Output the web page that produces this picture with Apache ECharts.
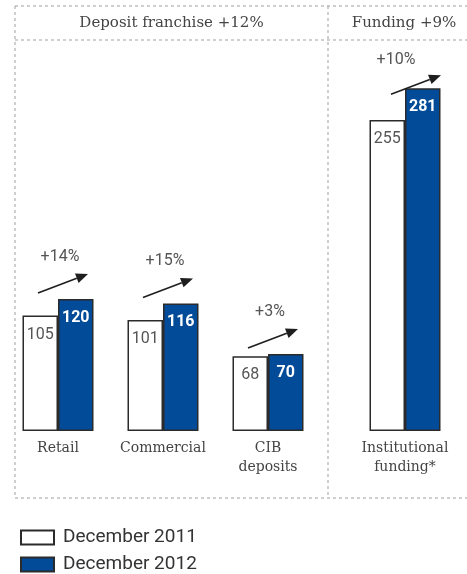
<!DOCTYPE html>
<html>
<head>
<meta charset="utf-8">
<script src="https://cdn.jsdelivr.net/npm/echarts@6/dist/echarts.min.js"></script>
<style>
  html, body { margin: 0; padding: 0; background: #fff; }
  #chart { width: 467px; height: 574px; }
</style>
</head>
<body>
<div id="chart"></div>
<script>
// Deposit franchise (left panel)
const depositCategories = ['Retail', 'Commercial', 'CIB\ndeposits'];
const deposit2011 = [105, 101, 68];
const deposit2012 = [120, 116, 70];
const depositGrowth = ['+14%', '+15%', '+3%'];

// Funding (right panel)
const fundingCategories = ['Institutional\nfunding*'];
const funding2011 = [255];
const funding2012 = [281];
const fundingGrowth = ['+10%'];

const panelTitles = ['Deposit franchise +12%', 'Funding +9%'];
const seriesNames = ['December 2011', 'December 2012'];

const BLUE = '#024b98';
const EDGE = '#2b2b2b';
const SANS = 'Roboto';
const SERIF = 'DejaVu Serif';

// growth arrow + label, anchored on the category centre at the 2012 value
function growthArrow(growth, off) {
  return function (params, api) {
    const p = api.coord([api.value(0), api.value(1)]);
    const x1 = p[0] + off.tail[0], y1 = p[1] + off.tail[1];
    const x2 = p[0] + off.head[0], y2 = p[1] + off.head[1];
    const dx = x2 - x1, dy = y2 - y1;
    const len = Math.sqrt(dx * dx + dy * dy);
    const ux = dx / len, uy = dy / len;
    const hl = 12, hw = 5;
    const bx = x2 - ux * hl, by = y2 - uy * hl;
    return {
      type: 'group',
      children: [
        { type: 'line', shape: { x1: x1, y1: y1, x2: bx, y2: by },
          style: { stroke: '#1e1e1e', lineWidth: 1.6 } },
        { type: 'polygon',
          shape: { points: [[x2, y2], [bx - uy * hw, by + ux * hw], [bx + uy * hw, by - ux * hw]] },
          style: { fill: '#1e1e1e' } },
        { type: 'text',
          style: { text: growth[params.dataIndex], x: p[0] + off.label[0], y: p[1] + off.label[1],
                   align: 'center', verticalAlign: 'middle',
                   font: '16px ' + SANS, fill: '#555' } }
      ]
    };
  };
}

function barSeries(name, data, idx, is2012) {
  return {
    type: 'bar', name: name, data: data,
    xAxisIndex: idx, yAxisIndex: idx,
    barWidth: 35.5, barGap: '0%',
    itemStyle: { color: is2012 ? BLUE : '#fff', borderColor: EDGE, borderWidth: 1.5 },
    label: {
      show: true, position: 'insideTop', distance: 11,
      fontFamily: SANS, fontSize: 16,
      fontWeight: is2012 ? 'bold' : 'normal',
      color: is2012 ? '#fff' : '#555'
    },
    z: 3
  };
}

const dash = { stroke: '#a0a0a0', lineWidth: 1, lineDash: [3, 3] };
function hline(y, x1, x2) { return { type: 'line', shape: { x1: x1, y1: y, x2: x2, y2: y }, style: dash, silent: true }; }
function vline(x, y1, y2) { return { type: 'line', shape: { x1: x, y1: y1, x2: x, y2: y2 }, style: dash, silent: true }; }

const catLabel = {
  fontFamily: SERIF, fontSize: 14, color: '#444', lineHeight: 19, margin: 8, interval: 0
};

function legendItem(name, top) {
  return {
    data: [name], left: 20, top: top, padding: 0,
    itemWidth: 33, itemHeight: 14, icon: 'rect', selectedMode: false,
    textStyle: { fontFamily: SANS, fontSize: 19, color: '#333', padding: [0, 0, 0, 4] }
  };
}

const chart = echarts.init(document.getElementById('chart'), null, { renderer: 'canvas' });
chart.setOption({
  animation: false,
  grid: [
    { left: 5.5, right: 146.5, top: 101, bottom: 143 },
    { left: 355, right: 12, top: 65, bottom: 143 }
  ],
  xAxis: [
    { type: 'category', gridIndex: 0, data: depositCategories,
      axisLine: { show: false }, axisTick: { show: false }, axisLabel: catLabel },
    { type: 'category', gridIndex: 1, data: fundingCategories,
      axisLine: { show: false }, axisTick: { show: false }, axisLabel: catLabel }
  ],
  yAxis: [
    { type: 'value', gridIndex: 0, min: 0, max: 300, show: false },
    { type: 'value', gridIndex: 1, min: 0, max: 300, show: false }
  ],
  legend: [legendItem(seriesNames[0], 528), legendItem(seriesNames[1], 555)],
  graphic: [
    hline(6, 15, 467), hline(40, 15, 467), hline(498, 15, 467),
    vline(15, 6, 498), vline(328, 6, 498),
    { type: 'text', style: { text: panelTitles[0], x: 171.5, y: 23, align: 'center', verticalAlign: 'middle',
      font: '15px "' + SERIF + '"', fill: '#444' } },
    { type: 'text', style: { text: panelTitles[1], x: 404, y: 23, align: 'center', verticalAlign: 'middle',
      font: '15px "' + SERIF + '"', fill: '#444' } }
  ],
  series: [
    barSeries(seriesNames[0], deposit2011, 0, false),
    barSeries(seriesNames[1], deposit2012, 0, true),
    barSeries(seriesNames[0], funding2011, 1, false),
    barSeries(seriesNames[1], funding2012, 1, true),
    {
      type: 'custom', xAxisIndex: 0, yAxisIndex: 0, clip: false, z: 5,
      data: deposit2012.map((v, i) => [i, v]),
      renderItem: growthArrow(depositGrowth, { tail: [-20, -6], head: [30, -25], label: [2, -42] })
    },
    {
      type: 'custom', xAxisIndex: 1, yAxisIndex: 1, clip: false, z: 5,
      data: funding2012.map((v, i) => [i, v]),
      renderItem: growthArrow(fundingGrowth, { tail: [-14, 6], head: [36, -13], label: [-9, -28] })
    }
  ]
});
</script>
</body>
</html>
